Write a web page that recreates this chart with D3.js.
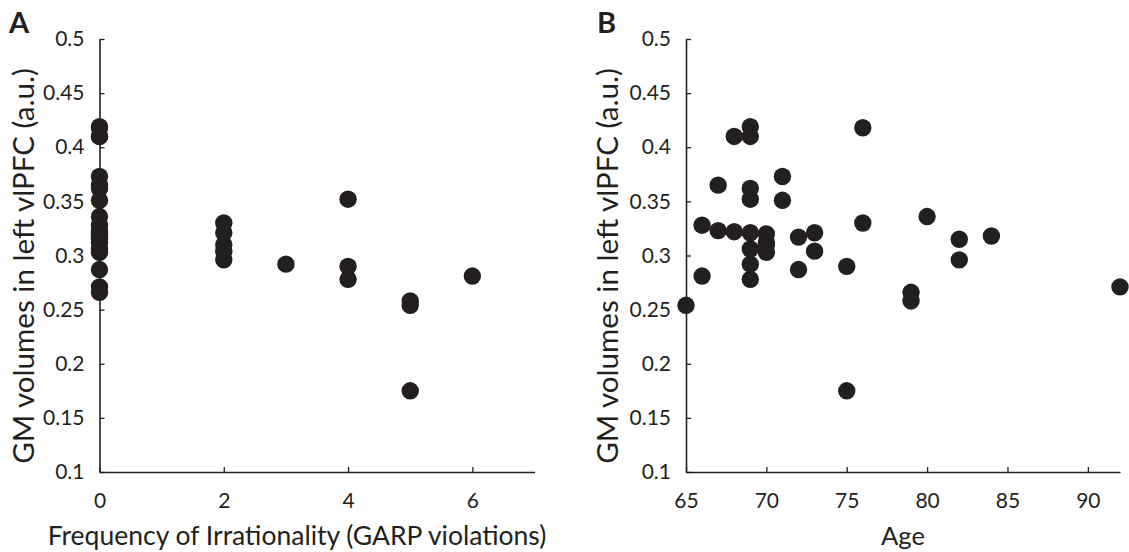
<!DOCTYPE html>
<html>
<head>
<meta charset="utf-8">
<script src="https://cdn.jsdelivr.net/npm/d3@7"></script>
<style>
  html, body { margin: 0; padding: 0; background: #fff; }
  svg { display: block; }
  text { font-family: Lato, "Open Sans", sans-serif; fill: #231f20; }
</style>
</head>
<body>
<svg id="chart" width="1129" height="552"></svg>
<script>
// ---- Data ----
const gmVolume = [0.419, 0.418, 0.410, 0.410, 0.373, 0.365, 0.362, 0.352, 0.351, 0.336,
                  0.330, 0.328, 0.323, 0.322, 0.321, 0.321, 0.320, 0.318, 0.317, 0.315,
                  0.312, 0.310, 0.306, 0.304, 0.303, 0.296, 0.292, 0.290, 0.287, 0.281,
                  0.278, 0.271, 0.266, 0.258, 0.254, 0.175];
const ageYears = [69, 76, 68, 69, 71, 67, 69, 69, 71, 80,
                  76, 66, 67, 68, 69, 73, 70, 84, 72, 82,
                  70, 70, 69, 73, 70, 82, 69, 75, 72, 66,
                  69, 92, 79, 79, 65, 75];
const garpViolations = [0, 0, 0, 0, 0, 0, 0, 4, 0, 0,
                        2, 0, 0, 0, 2, 0, 0, 0, 0, 0,
                        0, 2, 0, 2, 0, 2, 3, 4, 0, 6,
                        4, 0, 0, 5, 5, 5];

const yTicks = [0.1, 0.15, 0.2, 0.25, 0.3, 0.35, 0.4, 0.45, 0.5];
const yTickLabels = ["0.1", "0.15", "0.2", "0.25", "0.3", "0.35", "0.4", "0.45", "0.5"];
const garpTicks = [0, 2, 4, 6];
const garpTickLabels = ["0", "2", "4", "6"];
const ageTicks = [65, 70, 75, 80, 85, 90];
const ageTickLabels = ["65", "70", "75", "80", "85", "90"];

const yTitle = "GM volumes in left vlPFC (a.u.)";
const panels = [
  { letter: "A", xs: garpViolations, domain: [0, 7], range: [99.5, 534.5],
    ticks: garpTicks, tickLabels: garpTickLabels,
    xTitle: "Frequency of Irrationality (GARP violations)", xTitleWidth: 499,
    letterX: 9, yTitleX: 25 },
  { letter: "B", xs: ageYears, domain: [65, 92], range: [686, 1120],
    ticks: ageTicks, tickLabels: ageTickLabels,
    xTitle: "Age", xTitleWidth: 44,
    letterX: 597, yTitleX: 609 }
];

const ink = "#231f20";
const svg = d3.select("#chart");
const y = d3.scaleLinear().domain([0.1, 0.5]).range([472, 39]);

function fitText(sel, target) {
  const w = sel.node().getComputedTextLength();
  const fs = parseFloat(sel.attr("font-size"));
  sel.attr("font-size", fs * target / w);
}

panels.forEach(p => {
  const x = d3.scaleLinear().domain(p.domain).range(p.range);
  const x0 = p.range[0];

  const yAxis = d3.axisLeft(y)
    .tickValues(yTicks)
    .tickFormat((d, i) => yTickLabels[i])
    .tickSizeInner(-5).tickSizeOuter(0).tickPadding(15);
  const gy = svg.append("g").attr("transform", `translate(${x0},0)`).call(yAxis);

  const xAxis = d3.axisBottom(x)
    .tickValues(p.ticks)
    .tickFormat((d, i) => p.tickLabels[i])
    .tickSizeInner(-5).tickSizeOuter(0).tickPadding(21);
  const gx = svg.append("g").attr("transform", `translate(0,${y(0.1)})`).call(xAxis);

  [gx, gy].forEach(g => {
    g.selectAll("path.domain").attr("stroke", ink).attr("stroke-width", 1.6);
    g.selectAll(".tick line").attr("stroke", ink).attr("stroke-width", 1.3);
    g.selectAll(".tick text").attr("font-family", "Lato, 'Open Sans', sans-serif")
      .attr("font-size", 21).attr("fill", ink);
  });

  // axis titles
  const xt = svg.append("text")
    .attr("x", (p.range[0] + p.range[1]) / 2 + (p.letter === "A" ? -20 : 0))
    .attr("y", 545)
    .attr("text-anchor", "middle")
    .attr("font-size", 24)
    .text(p.xTitle);
  fitText(xt, p.xTitleWidth);

  const yt = svg.append("text")
    .attr("transform", `translate(${p.yTitleX + 9},266) rotate(-90)`)
    .attr("text-anchor", "middle")
    .attr("font-size", 24)
    .text(yTitle);
  fitText(yt, 396);

  // panel letter
  svg.append("text")
    .attr("x", p.letterX).attr("y", 33)
    .attr("font-family", "'Liberation Sans', Arial, sans-serif")
    .attr("font-weight", "bold")
    .attr("font-size", 29)
    .text(p.letter);

  // dots
  svg.append("g").selectAll("circle")
    .data(gmVolume.map((v, i) => ({ v, xv: p.xs[i] })))
    .join("circle")
    .attr("cx", d => x(d.xv))
    .attr("cy", d => y(d.v))
    .attr("r", 8.7)
    .attr("fill", ink);
});
</script>
</body>
</html>
